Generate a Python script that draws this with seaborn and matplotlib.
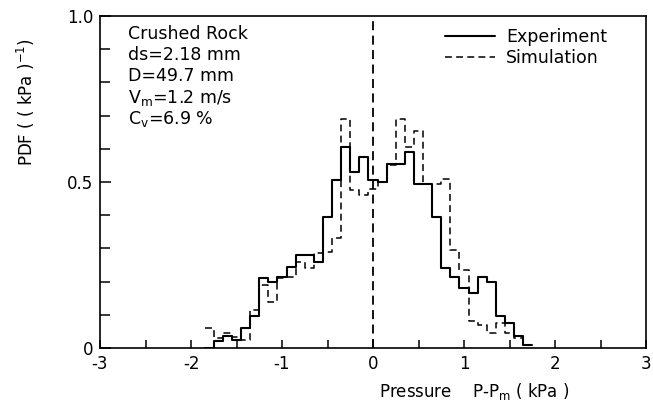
import numpy as np
import pandas as pd
import matplotlib
matplotlib.use("Agg")
import matplotlib.pyplot as plt
from matplotlib.lines import Line2D
import seaborn as sns

# ---- data (bin centres in kPa, PDF values in (kPa)^-1) ----
pressure = np.round(np.arange(-1.8, 1.75, 0.1), 2)
experiment = [0.0, 0.02, 0.035, 0.025, 0.06, 0.095, 0.21, 0.20, 0.215, 0.245,
              0.28, 0.28, 0.26, 0.395, 0.505, 0.605, 0.53, 0.575, 0.505, 0.50,
              0.555, 0.555, 0.59, 0.495, 0.495, 0.395, 0.24, 0.215, 0.18, 0.165,
              0.215, 0.20, 0.095, 0.075, 0.035, 0.01]
simulation = [0.06, 0.03, 0.045, 0.032, 0.025, 0.115, 0.19, 0.14, 0.21, 0.215,
              0.26, 0.24, 0.285, 0.29, 0.33, 0.69, 0.475, 0.46, 0.48, 0.50,
              0.55, 0.69, 0.605, 0.655, 0.495, 0.495, 0.51, 0.295, 0.235, 0.08,
              0.07, 0.045, 0.075, 0.045, 0.03, 0.01]
bin_width = 0.1
xticks = [-3, -2, -1, 0, 1, 2, 3]
yticks = [0, 0.5, 1.0]
ytick_labels = ["0", "0.5", "1.0"]
info_lines = ["Crushed Rock", "ds=2.18 mm", "D=49.7 mm",
              "V$_{\\mathregular{m}}$=1.2 m/s", "C$_{\\mathregular{v}}$=6.9 %"]

sns.set_style("white")
plt.rcParams["font.family"] = ["DejaVu Sans"]
plt.rcParams["axes.unicode_minus"] = False
plt.rcParams["text.color"] = "black"
plt.rcParams["axes.labelcolor"] = "black"

fig = plt.figure(figsize=(6.53, 4.03), dpi=100)
ax = fig.add_axes([100 / 653, 55 / 403, 546 / 653, 332 / 403])

df_exp = pd.DataFrame({"p": pressure, "pdf": experiment})
df_sim = pd.DataFrame({"p": pressure, "pdf": simulation})
edges = list(np.append(pressure - bin_width / 2, pressure[-1] + bin_width / 2))

sns.histplot(data=df_exp, x="p", weights="pdf", bins=edges, element="step",
             fill=False, color="black", linewidth=1.5, ax=ax)
sns.histplot(data=df_sim, x="p", weights="pdf", bins=edges, element="step",
             fill=False, color="black", linewidth=1.1,
             linestyle=(0, (4.5, 2.8)), ax=ax)
ax.axvline(0, color="black", linewidth=1.3, linestyle=(0, (5, 3)))

ax.set_xlim(-3, 3)
ax.set_ylim(0, 1.0)
ax.set_xticks(xticks)
ax.set_xticklabels([str(t) for t in xticks])
ax.set_xticks(np.arange(-2.5, 3, 1.0), minor=True)
ax.set_yticks(yticks)
ax.set_yticklabels(ytick_labels)
ax.set_yticks(np.arange(0.1, 1.0, 0.1), minor=True)
ax.tick_params(axis="both", which="both", direction="in", color="black",
               labelsize=12, labelcolor="black", bottom=True, left=True,
               top=False, right=False)
ax.tick_params(axis="x", which="both", length=6, width=1.1, pad=5)
ax.tick_params(axis="y", which="major", length=8, width=1.1, pad=5)
ax.tick_params(axis="y", which="minor", length=7, width=1.1)
for s in ax.spines.values():
    s.set_color("black")
    s.set_linewidth(1.2)
    s.set_visible(True)

ax.set_xlabel("Pressure    P-P$_{\\mathregular{m}}$ ( kPa )", fontsize=12)
ax.xaxis.set_label_coords(0.685, -0.1)
ax.set_ylabel("PDF ( ( kPa )$^{\\mathregular{-1}}$)", fontsize=12)
ax.yaxis.set_label_coords(-0.115, 0.74)

y0 = 0.946
for i, line in enumerate(info_lines):
    ax.text(0.052, y0 - i * 0.064, line, transform=ax.transAxes,
            fontsize=12.5, va="center", ha="left", color="black")

handles = [Line2D([], [], color="black", linewidth=1.5),
           Line2D([], [], color="black", linewidth=1.1, linestyle=(0, (4.5, 2.8)))]
ax.legend(handles, ["Experiment", "Simulation"], loc="upper left",
          bbox_to_anchor=(0.632, 0.965), frameon=False, fontsize=12.5,
          handlelength=2.9, handletextpad=0.6, labelspacing=0.2,
          borderpad=0, borderaxespad=0)

fig.savefig("out.png", dpi=100)
